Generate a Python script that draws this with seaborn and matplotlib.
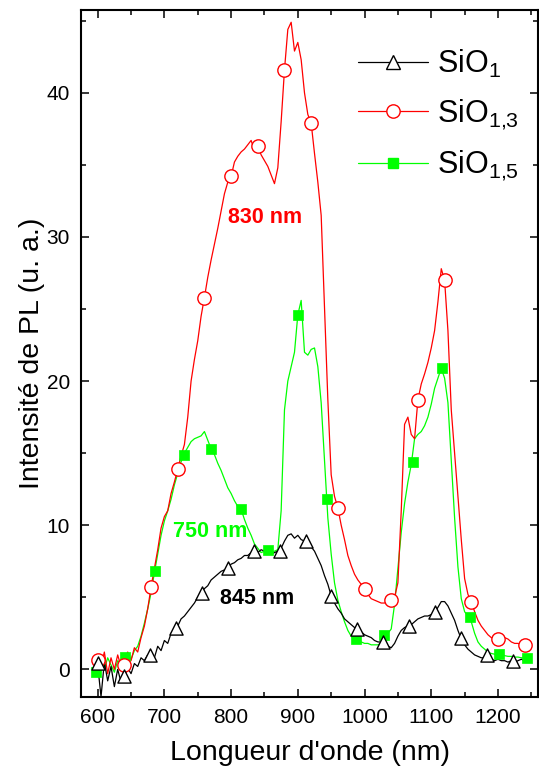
import numpy as np
import pandas as pd
import matplotlib
matplotlib.use("Agg")
import matplotlib.pyplot as plt
from matplotlib.lines import Line2D
from matplotlib.ticker import MultipleLocator
import seaborn as sns

# ---------------- data ----------------
wavelength = list(range(600, 1250, 5))

sio13 = [0.7, 0.2, 1.2, -0.3, 0.8, 0.0, 1.0, 0.2, 0.3, 1.2,
         0.6, 1.5, 1.2, 2.2, 3.0, 4.2, 5.7, 7.0, 8.3, 9.8,
         10.6, 11.0, 12.2, 13.0, 13.9, 14.8, 15.6, 17.5, 20.0, 21.5,
         22.8, 24.5, 25.8, 27.2, 28.4, 29.5, 30.6, 31.8, 33.0, 33.8,
         34.2, 35.2, 35.6, 35.9, 36.1, 36.4, 36.7, 36.0, 36.3, 35.7,
         35.3, 34.9, 34.3, 33.7, 34.8, 38.0, 41.6, 44.4, 44.9, 42.9,
         43.5, 42.3, 40.0, 38.5, 37.9, 35.8, 33.8, 31.5, 25.0, 18.7,
         13.5, 12.0, 11.2, 10.0, 9.0, 7.9, 7.2, 6.6, 6.2, 5.9,
         5.6, 5.2, 4.9, 4.8, 4.7, 4.6, 4.6, 4.7, 4.8, 5.0,
         6.0, 11.0, 17.0, 17.5, 16.3, 16.0, 18.7, 19.8, 20.5, 21.3,
         22.3, 23.5, 25.5, 27.8, 27.0, 23.5, 18.0, 15.0, 12.0, 9.0,
         6.3, 5.2, 4.7, 4.0, 3.4, 3.0, 2.7, 2.4, 2.2, 2.1,
         2.1, 2.0, 2.2, 2.1, 1.9, 1.8, 1.8, 1.7, 1.7, 1.6]

sio15 = [-0.2, 0.5, 0.0, 0.8, 0.3, -0.2, 0.6, 0.4, 0.2, 0.9,
         0.7, 1.3, 1.6, 2.3, 3.2, 4.2, 5.3, 6.7, 8.0, 9.3,
         10.3, 11.0, 11.8, 12.8, 13.6, 14.4, 15.0, 15.4, 15.8, 16.0,
         16.1, 16.2, 16.5, 15.9, 15.3, 14.9, 14.3, 13.8, 13.2, 12.6,
         12.2, 11.7, 11.3, 11.1, 10.4, 9.8, 9.3, 8.7, 8.4, 8.1,
         8.2, 8.3, 8.1, 8.2, 8.3, 11.0, 18.0, 20.0, 21.0, 22.0,
         24.6, 25.6, 22.0, 21.8, 22.2, 22.3, 21.0, 18.5, 14.5, 10.5,
         8.0, 6.0, 4.8, 4.0, 3.3, 2.7, 2.3, 2.1, 2.0, 1.9,
         1.8, 1.8, 1.7, 1.7, 1.7, 1.8, 2.2, 2.5, 2.8, 4.5,
         7.0, 9.5, 11.5, 13.0, 14.2, 16.0, 16.3, 16.5, 16.9, 17.5,
         18.4, 19.5, 20.2, 20.9, 20.2, 18.5, 14.5, 10.5, 7.1, 4.9,
         4.0, 3.7, 3.3, 2.5, 1.9, 1.6, 1.4, 1.2, 1.1, 1.05,
         1.0, 1.0, 0.95, 0.9, 0.9, 0.85, 0.85, 0.8, 0.8, 0.8]

sio1 = [0.3, -1.9, 0.5, -0.8, 0.2, -1.2, 0.0, -0.9, -0.5, 0.1,
        -0.3, 0.4, 0.2, 0.8, 0.6, 1.0, 1.1, 0.8, 1.6, 1.3,
        2.0, 1.8, 2.5, 2.7, 3.0, 3.5, 3.7, 4.0, 4.3, 4.6,
        5.0, 5.3, 5.6, 5.8, 6.2, 6.4, 6.6, 6.8, 6.9, 7.0,
        7.3, 7.4, 7.6, 7.7, 7.9, 7.9, 8.1, 8.2, 8.1, 8.3,
        8.2, 8.1, 8.0, 8.1, 8.2, 8.4, 8.9, 9.3, 9.4, 9.1,
        9.3, 9.0, 8.9, 8.7, 8.5, 8.2, 7.7, 7.2, 6.5, 5.9,
        5.1, 4.6, 4.2, 3.9, 3.5, 3.3, 3.1, 2.9, 2.8, 2.6,
        2.4, 2.3, 2.2, 2.0, 1.9, 1.9, 1.8, 1.6, 1.5, 1.8,
        2.3, 2.7, 2.9, 3.0, 3.1, 3.3, 3.5, 3.6, 3.7, 3.7,
        3.8, 3.9, 4.3, 4.7, 4.7, 4.4, 3.9, 3.4, 2.7, 2.1,
        1.7, 1.4, 1.2, 1.0, 0.9, 0.8, 0.8, 0.9, 0.7, 0.6,
        0.7, 0.6, 0.6, 0.5, 0.6, 0.5, 0.6, 0.7, 0.6, 0.7]

# symbols placed along each curve
sio13_sym_x = [600, 640, 680, 720, 760, 800, 840, 880, 920, 960, 1000, 1040, 1080, 1120, 1160, 1200, 1240]
sio13_sym_y = [0.65, 0.3, 5.7, 13.9, 25.8, 34.2, 36.3, 41.6, 37.9, 11.2, 5.6, 4.8, 18.7, 27.0, 4.7, 2.1, 1.7]

sio15_sym_x = [597, 641, 686, 730, 770, 815, 855, 900, 943, 987, 1029, 1072, 1116, 1158, 1201, 1243]
sio15_sym_y = [-0.2, 0.85, 6.8, 14.9, 15.3, 11.1, 8.3, 24.6, 11.8, 2.1, 2.4, 14.4, 20.9, 3.6, 1.05, 0.8]

sio1_sym_x = [600, 639, 678, 717, 756, 795, 834, 873, 912, 950, 989, 1028, 1067, 1106, 1144, 1183, 1222]
sio1_sym_y = [0.45, -0.45, 1.0, 2.9, 5.3, 7.0, 8.2, 8.2, 8.9, 5.1, 2.8, 1.9, 3.0, 4.0, 2.2, 1.0, 0.6]

labels = ["$\\mathregular{SiO_1}$", "$\\mathregular{SiO_{1{,}3}}$", "$\\mathregular{SiO_{1{,}5}}$"]
annotations = [("830 nm", 795, 30.97), ("750 nm", 713, 9.17), ("845 nm", 783, 4.53)]

x_label = "Longueur d'onde (nm)"
y_label = "Intensité de PL (u. a.)"

# ---------------- styling ----------------
sns.set_theme(style="ticks")
plt.rcParams["font.family"] = ["Liberation Sans", "DejaVu Sans"]
plt.rcParams["axes.linewidth"] = 1.5
for key in ["text.color", "axes.labelcolor", "xtick.color", "ytick.color",
            "xtick.labelcolor", "ytick.labelcolor", "axes.edgecolor"]:
    plt.rcParams[key] = "black"

RED = "#ff0000"
GREEN = "#00ff00"
BLACK = "#000000"

fig = plt.figure(figsize=(5.39, 7.71), dpi=100)
ax = fig.add_axes([81 / 539, 74 / 771, 457 / 539, 687 / 771])

df = pd.DataFrame({"wl": wavelength, "SiO1": sio1, "SiO13": sio13, "SiO15": sio15})

sns.lineplot(data=df, x="wl", y="SiO15", ax=ax, color=GREEN, linewidth=0.9,
             estimator=None, sort=False, zorder=2)
sns.lineplot(data=df, x="wl", y="SiO13", ax=ax, color=RED, linewidth=0.9,
             estimator=None, sort=False, zorder=3)
sns.lineplot(data=df, x="wl", y="SiO1", ax=ax, color=BLACK, linewidth=0.9,
             estimator=None, sort=False, zorder=4)

sns.scatterplot(x=sio15_sym_x, y=sio15_sym_y, ax=ax, marker="s", s=62,
                color=GREEN, edgecolor=GREEN, linewidth=0.5, zorder=5)
sns.scatterplot(x=sio13_sym_x, y=sio13_sym_y, ax=ax, marker="o", s=92,
                facecolor="white", edgecolor=RED, linewidth=1.0, zorder=6)
sns.scatterplot(x=sio1_sym_x, y=sio1_sym_y, ax=ax, marker="^", s=90,
                facecolor="white", edgecolor=BLACK, linewidth=1.0, zorder=7)

for (txt, xx, yy), col in zip(annotations, [RED, GREEN, BLACK]):
    ax.text(xx, yy, txt, color=col, fontsize=15.5, fontweight="bold",
            ha="left", va="baseline", zorder=8)

ax.set_xlim(575, 1260)
ax.set_ylim(-1.92, 45.75)
ax.xaxis.set_major_locator(MultipleLocator(100))
ax.xaxis.set_minor_locator(MultipleLocator(50))
ax.yaxis.set_major_locator(MultipleLocator(10))
ax.yaxis.set_minor_locator(MultipleLocator(5))
ax.tick_params(which="both", direction="in", top=True, right=True,
               width=1.1, color="black", labelcolor="black")
ax.tick_params(which="major", length=6, labelsize=15, pad=8)
ax.tick_params(which="minor", length=3.5)
for s in ax.spines.values():
    s.set_visible(True)
    s.set_linewidth(1.5)
    s.set_color("black")

ax.set_xlabel(x_label, fontsize=20.5, labelpad=9, color="black")
ax.set_ylabel(y_label, fontsize=20.5, labelpad=1, color="black")

handles = [
    Line2D([], [], color=BLACK, lw=0.9, marker="^", markersize=9.4,
           markerfacecolor="white", markeredgecolor=BLACK, markeredgewidth=1.0),
    Line2D([], [], color=RED, lw=0.9, marker="o", markersize=9.6,
           markerfacecolor="white", markeredgecolor=RED, markeredgewidth=1.0),
    Line2D([], [], color=GREEN, lw=0.9, marker="s", markersize=7.6,
           markerfacecolor=GREEN, markeredgecolor=GREEN),
]
leg = ax.legend(handles, labels, loc="upper left",
                bbox_to_anchor=((358 - 81) / 457, (697 - 48) / 687),
                frameon=False, fontsize=22, borderpad=0, borderaxespad=0,
                handlelength=2.3, handletextpad=0.3, labelspacing=0.56)

fig.savefig("out.png", dpi=100)
